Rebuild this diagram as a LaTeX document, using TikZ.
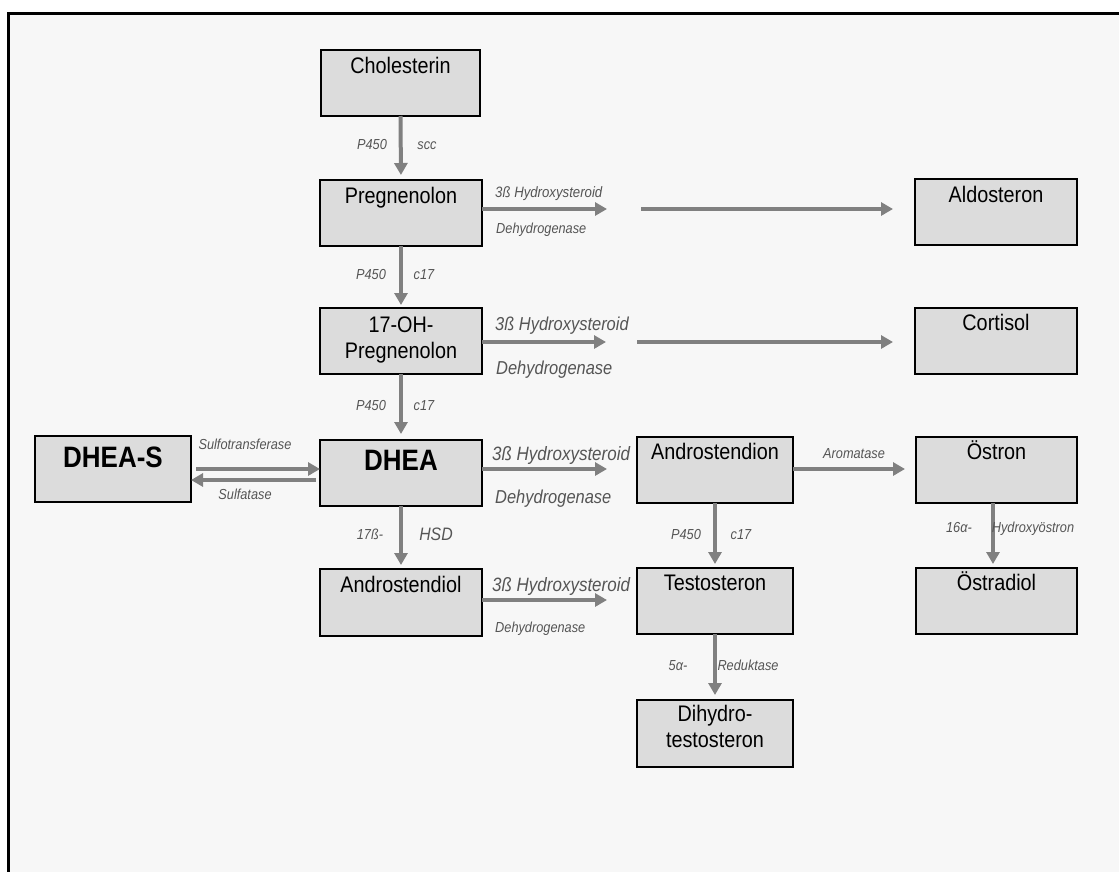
\documentclass[tikz,border=0pt]{standalone}
\usepackage{fontspec}
\usepackage{graphicx}
\setmainfont[FakeStretch=0.88]{Liberation Sans}
\usetikzlibrary{arrows.meta}
\definecolor{bg}{HTML}{F7F7F7}
\definecolor{boxfill}{HTML}{DCDCDC}
\definecolor{arrowgray}{HTML}{808080}
\definecolor{lblgray}{HTML}{555555}
\begin{document}
\begin{tikzpicture}[x=1pt,y=-1pt,
  box/.style={draw=black, line width=2.5pt, fill=boxfill, inner sep=0pt, outer sep=0pt},
  btext/.style={inner sep=0pt, anchor=base, font=\fontsize{22.5}{25}\selectfont, align=center},
  btextml/.style={inner sep=0pt, anchor=north, font=\fontsize{22.5}{25.5}\selectfont, align=center},
  bigtext/.style={inner sep=0pt, anchor=base, font=\fontsize{29.5}{32}\selectfont\bfseries},
  arr/.style={draw=arrowgray, line width=4pt, -{Triangle[length=12pt,width=13pt]}},
  seg/.style={draw=arrowgray, line width=4pt},
  lbl/.style={inner sep=0pt, anchor=base, text=lblgray, font=\fontsize{14.5}{16}\selectfont\itshape},
  lblw/.style={lbl, anchor=base west},
  lblm/.style={font=\fontsize{18.7}{20}\selectfont\itshape},
  lbll/.style={font=\fontsize{19.3}{21}\selectfont\itshape},
]
\useasboundingbox (0,0) rectangle (1119,871);
% frame
\fill[bg] (8.5,13.5) rectangle (1130,880);
\draw[line width=3pt] (8.5,880) -- (8.5,13.5) -- (1130,13.5);

% boxes
\node[box, minimum width=159, minimum height=66] (chol) at (400.5,83) {};
\node[box, minimum width=162, minimum height=66] (preg) at (401,213) {};
\node[box, minimum width=162, minimum height=66] (aldo) at (996,212) {};
\node[box, minimum width=162, minimum height=66] (ohpreg) at (401,341) {};
\node[box, minimum width=162, minimum height=66] (cort) at (996,341) {};
\node[box, minimum width=156, minimum height=66] (dheas) at (113,469) {};
\node[box, minimum width=162, minimum height=66] (dhea) at (401,473) {};
\node[box, minimum width=156, minimum height=66] (adion) at (715,470) {};
\node[box, minimum width=161, minimum height=66] (estron) at (996.5,470) {};
\node[box, minimum width=162, minimum height=67] (adiol) at (401,602.5) {};
\node[box, minimum width=156, minimum height=66] (testo) at (715,601) {};
\node[box, minimum width=161, minimum height=66] (estradiol) at (996.5,601) {};
\node[box, minimum width=156, minimum height=67] (dht) at (715,733.5) {};

% box texts
\node[btext] (tchol) at (400.5,73) {Cholesterin};
\node[btext] (tpreg) at (401,203) {Pregnenolon};
\node[btext] (taldo) at (996,202) {Aldosteron};
\node[btextml] (tohpreg) at (401,317) {17-OH-\\Pregnenolon};
\node[btext] (tcort) at (996,330.5) {Cortisol};
\node[bigtext] (tdheas) at (113,467) {DHEA-S};
\node[bigtext] (tdhea) at (401,470) {DHEA};
\node[btext] (tadion) at (715,459) {Androstendion};
\node[btext] (testron) at (996.5,459) {Östron};
\node[btext] (tadiol) at (401,592) {Androstendiol};
\node[btext] (ttesto) at (715,590) {Testosteron};
\node[btext] (testradiol) at (996.5,590) {Östradiol};
\node[btextml] (tdht) at (715,705) {Dihydro-\\testosteron};

% vertical arrows
\draw[arr, shorten >=5pt] (chol.south) -- (preg.north);
\draw[arr, shorten >=3pt] (preg.south) -- (ohpreg.north);
\draw[arr, shorten >=6pt] (ohpreg.south) -- (dhea.north);
\draw[arr, shorten >=4pt] (dhea.south) -- (adiol.north);
\draw[arr, shorten >=4pt] (adion.south) -- (testo.north);
\draw[arr, shorten >=5pt] (testo.south) -- (dht.north);
\draw[arr, shorten >=4pt] ([xshift=-3.5pt]estron.south) -- ([xshift=-3.5pt]estradiol.north);

% horizontal arrows
\coordinate (p1) at (607,209);
\coordinate (p2) at (641,209);
\draw[arr] (preg.east |- p1) -- (p1);
\draw[arr, shorten >=22pt] (p2) -- (aldo.west |- p2);
\coordinate (o1) at (606,342);
\coordinate (o2) at (637,342);
\draw[arr] (ohpreg.east |- o1) -- (o1);
\draw[arr, shorten >=22pt] (o2) -- (cort.west |- o2);
\coordinate (d1) at (0,469);
\draw[arr, shorten >=30pt] (dhea.east |- d1) -- (adion.west |- d1);
\coordinate (a1) at (0,600);
\draw[arr, shorten >=30pt] (adiol.east |- a1) -- (testo.west |- a1);
\draw[arr, shorten >=11pt] (adion.east |- d1) -- (estron.west |- d1);
\coordinate (s1c) at (0,469);
\coordinate (s2c) at (0,480);
\draw[arr, shorten <=5pt] (dheas.east |- s1c) -- (dhea.west |- s1c);
\draw[arr, shorten <=4pt] (dhea.west |- s2c) -- (dheas.east |- s2c);

% labels
\node[lbl] (l1a) at (372,149) {P450};
\node[lbl] (l1b) at (427,149) {scc};
\node[lbl] (l2a) at (371,279) {P450};
\node[lbl] (l2b) at (424,279) {c17};
\node[lbl] (l3a) at (371,410) {P450};
\node[lbl] (l3b) at (424,410) {c17};
\node[lbl] (l4a) at (370,539) {17ß-};
\node[lbl, font=\fontsize{18}{20}\selectfont\itshape] (l4b) at (436,540) {HSD};
\node[lblw, font=\fontsize{15}{16}\selectfont\itshape] (h1a) at (495,197) {3ß Hydroxysteroid};
\node[lblw] (h1b) at (496,233) {Dehydrogenase};
\node[lblw, lblm] (h2a) at (495,330) {3ß Hydroxysteroid};
\node[lblw, lblm] (h2b) at (496,374) {Dehydrogenase};
\node[lblw, lbll] (h3a) at (492,460) {3ß Hydroxysteroid};
\node[lblw, lblm] (h3b) at (495,503) {Dehydrogenase};
\node[lblw, lbll] (h4a) at (492,591) {3ß Hydroxysteroid};
\node[lblw] (h4b) at (495,632) {Dehydrogenase};
\node[lbl] (sl1) at (245,449) {Sulfotransferase};
\node[lbl] (sl2) at (245,499) {Sulfatase};
\node[lbl] (arom) at (854,458) {Aromatase};
\node[lbl] (l5a) at (686,539) {P450};
\node[lbl] (l5b) at (741,539) {c17};
\node[lbl] (l6a) at (959,532) {16α-};
\node[lbl] (l6b) at (1033,532) {Hydroxyöstron};
\node[lbl] (l7a) at (678,670) {5α-};
\node[lbl] (l7b) at (748,670) {Reduktase};
\end{tikzpicture}
\end{document}
